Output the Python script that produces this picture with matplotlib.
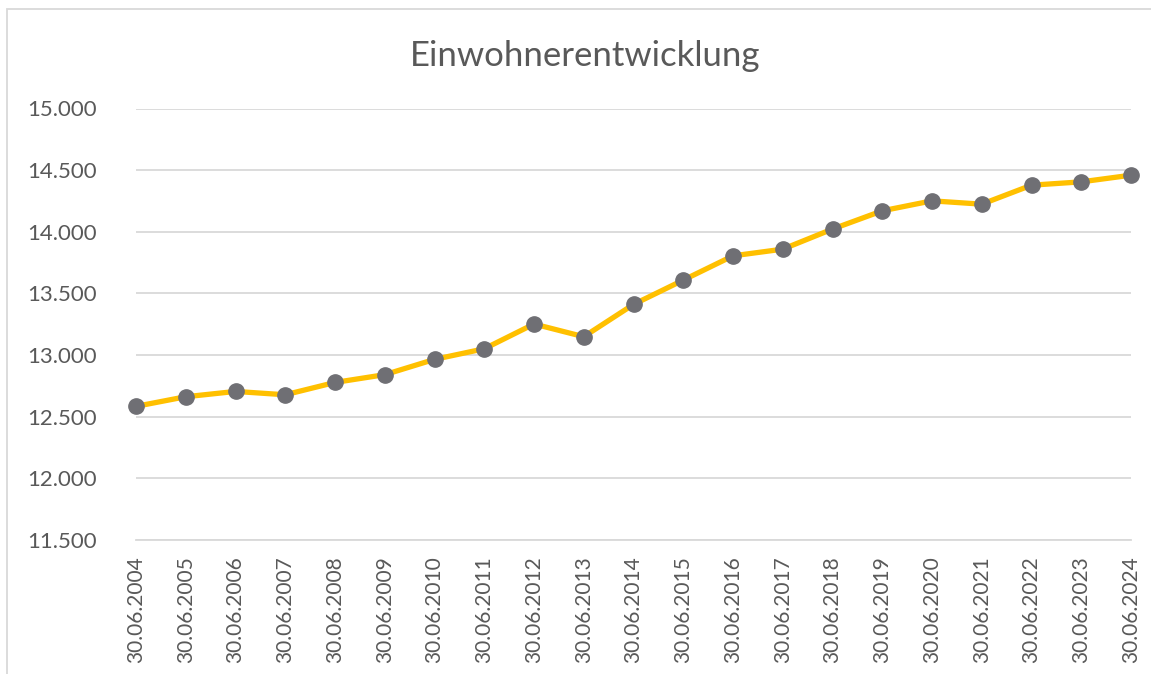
import matplotlib
matplotlib.use("Agg")
import matplotlib.pyplot as plt
from matplotlib.ticker import FuncFormatter

# Daten
jahre = ["30.06.2004", "30.06.2005", "30.06.2006", "30.06.2007", "30.06.2008",
         "30.06.2009", "30.06.2010", "30.06.2011", "30.06.2012", "30.06.2013",
         "30.06.2014", "30.06.2015", "30.06.2016", "30.06.2017", "30.06.2018",
         "30.06.2019", "30.06.2020", "30.06.2021", "30.06.2022", "30.06.2023",
         "30.06.2024"]
einwohner = [12584, 12662, 12705, 12678, 12778, 12841, 12965, 13051, 13252, 13149,
             13411, 13608, 13805, 13859, 14022, 14170, 14251, 14224, 14378, 14405,
             14459]
y_ticks = [11500, 12000, 12500, 13000, 13500, 14000, 14500, 15000]

gelb = "#FFC000"
grau = "#6F6F74"
text = "#595959"
gitter = "#D9D9D9"

plt.rcParams['font.family'] = ['Lato', 'DejaVu Sans']

W, H = 1151, 674
fig = plt.figure(figsize=(W / 100, H / 100), dpi=100)
ax = fig.add_axes([136 / W, (H - 540) / H, (1131 - 136) / W, (540 - 108.5) / H])

x = list(range(len(jahre)))
ax.plot(x, einwohner, color=gelb, lw=3.8, marker="o", ms=11,
        mfc=grau, mec=grau, clip_on=False, zorder=3)

ax.set_xlim(0, len(jahre) - 1)
ax.set_ylim(y_ticks[0], y_ticks[-1])
ax.set_yticks(y_ticks)
ax.yaxis.set_major_formatter(FuncFormatter(lambda v, p: f"{int(v):,}".replace(",", ".")))
ax.set_xticks(x)
ax.set_xticklabels(jahre, rotation=90, va="top")

ax.grid(axis="y", color=gitter, lw=1.3)
ax.set_axisbelow(True)
for s in ["top", "right", "left"]:
    ax.spines[s].set_visible(False)
ax.spines["bottom"].set_color(gitter)
ax.spines["bottom"].set_linewidth(1.3)
ax.tick_params(axis="both", length=0, colors=text)
ax.tick_params(axis="y", pad=28, labelsize=16)
ax.tick_params(axis="x", pad=12, labelsize=15)

fig.text(585 / W, (H - 56) / H, "Einwohnerentwicklung", ha="center", va="center",
         fontsize=25, color=text)

# Rahmen
fig.patches.append(plt.Rectangle((7.5 / W, -0.1), 1.2, (H - 9) / H + 0.1,
                                 transform=fig.transFigure, fill=False,
                                 ec=gitter, lw=1.3))

fig.savefig("out.png", dpi=100)
